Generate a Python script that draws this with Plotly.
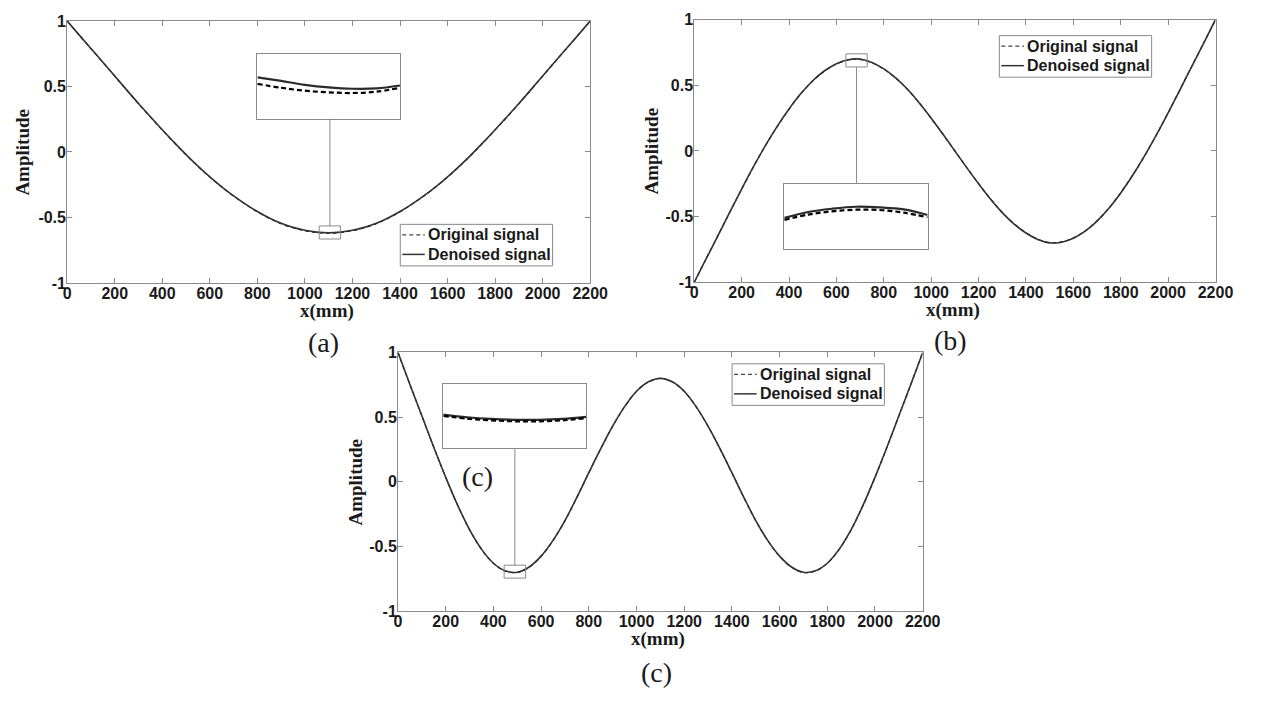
import plotly.graph_objects as go

# ---------------------------------------------------------------------------
# Mode-shape amplitudes along the beam (x in mm), original vs. denoised
# ---------------------------------------------------------------------------
x_mm = [0, 50, 100, 150, 200, 250, 300, 350, 400, 450, 500, 550, 600, 650, 700, 750,
        800, 850, 900, 950, 1000, 1050, 1100, 1150, 1200, 1250, 1300, 1350, 1400, 1450,
        1500, 1550, 1600, 1650, 1700, 1750, 1800, 1850, 1900, 1950, 2000, 2050, 2100,
        2150, 2200]

# (a) first mode
a_denoised = [1.0, 0.894, 0.79, 0.685, 0.58, 0.474, 0.37, 0.269, 0.17, 0.073, -0.02,
              -0.108, -0.19, -0.266, -0.335, -0.398, -0.455, -0.504, -0.545, -0.576,
              -0.598, -0.612, -0.617, -0.612, -0.598, -0.576, -0.545, -0.504, -0.455,
              -0.398, -0.335, -0.266, -0.19, -0.108, -0.02, 0.073, 0.17, 0.269, 0.37,
              0.474, 0.58, 0.685, 0.79, 0.894, 1.0]
a_original = [1.0, 0.893, 0.789, 0.684, 0.579, 0.473, 0.368, 0.267, 0.168, 0.071, -0.022,
              -0.110, -0.192, -0.268, -0.337, -0.400, -0.457, -0.506, -0.548, -0.579,
              -0.601, -0.615, -0.620, -0.615, -0.601, -0.579, -0.548, -0.506, -0.457,
              -0.400, -0.337, -0.268, -0.192, -0.110, -0.022, 0.071, 0.168, 0.267, 0.368,
              0.473, 0.579, 0.684, 0.789, 0.893, 1.0]

# (b) second mode
b_denoised = [-1.0, -0.822, -0.645, -0.466, -0.29, -0.12, 0.04, 0.187, 0.32, 0.437, 0.535,
              0.611, 0.665, 0.695, 0.70, 0.674, 0.625, 0.557, 0.47, 0.366, 0.25, 0.127,
              0.0, -0.127, -0.25, -0.366, -0.47, -0.557, -0.625, -0.674, -0.70, -0.695,
              -0.665, -0.611, -0.535, -0.437, -0.32, -0.187, -0.04, 0.12, 0.29, 0.466,
              0.645, 0.822, 1.0]
b_original = [-1.0, -0.822, -0.645, -0.467, -0.291, -0.121, 0.039, 0.185, 0.318, 0.435,
              0.533, 0.609, 0.663, 0.693, 0.698, 0.672, 0.623, 0.555, 0.469, 0.365, 0.249,
              0.126, 0.0, -0.126, -0.249, -0.365, -0.469, -0.555, -0.623, -0.672, -0.698,
              -0.693, -0.663, -0.609, -0.533, -0.435, -0.318, -0.185, -0.039, 0.121, 0.291,
              0.467, 0.645, 0.822, 1.0]

# (c) third mode
c_denoised = [1.0, 0.753, 0.51, 0.267, 0.035, -0.181, -0.37, -0.521, -0.63, -0.689, -0.70,
              -0.659, -0.575, -0.453, -0.30, -0.12, 0.07, 0.256, 0.43, 0.581, 0.70, 0.773,
              0.80, 0.773, 0.70, 0.581, 0.43, 0.256, 0.07, -0.12, -0.30, -0.453, -0.575,
              -0.659, -0.70, -0.689, -0.63, -0.521, -0.37, -0.181, 0.035, 0.267, 0.51,
              0.753, 1.0]
c_original = [1.0, 0.752, 0.509, 0.266, 0.034, -0.182, -0.371, -0.522, -0.631, -0.691,
              -0.702, -0.661, -0.576, -0.454, -0.301, -0.121, 0.069, 0.255, 0.429, 0.580,
              0.699, 0.772, 0.799, 0.772, 0.699, 0.580, 0.429, 0.255, 0.069, -0.121,
              -0.301, -0.454, -0.576, -0.661, -0.702, -0.691, -0.631, -0.522, -0.371,
              -0.182, 0.034, 0.266, 0.509, 0.752, 1.0]

# Close-up samples inside each zoom window
a_zoom_x = [1060, 1075, 1090, 1105, 1120, 1135, 1150]
a_zoom_original = [-0.611, -0.617, -0.6215, -0.624, -0.625, -0.623, -0.617]
a_zoom_denoised = [-0.601, -0.6065, -0.6125, -0.6165, -0.6185, -0.618, -0.6135]

b_zoom_x = [640, 655, 670, 685, 700, 715, 730]
b_zoom_original = [0.685, 0.693, 0.698, 0.7005, 0.700, 0.696, 0.689]
b_zoom_denoised = [0.688, 0.697, 0.702, 0.705, 0.704, 0.701, 0.6925]

c_zoom_x = [445, 460, 475, 490, 505, 520, 535]
c_zoom_original = [-0.695, -0.6995, -0.702, -0.7035, -0.7035, -0.702, -0.6985]
c_zoom_denoised = [-0.693, -0.6972, -0.6998, -0.7011, -0.7012, -0.6998, -0.6965]

x_ticks = [0, 200, 400, 600, 800, 1000, 1200, 1400, 1600, 1800, 2000, 2200]
y_ticks = [-1, -0.5, 0, 0.5, 1]
y_tick_text = ["-1", "-0.5", "0", "0.5", "1"]
legend_labels = ["Original signal", "Denoised signal"]
captions = ["(a)", "(b)", "(c)"]

# ---------------------------------------------------------------------------
W, H = 1262, 704
SANS = "Liberation Sans, Arial, sans-serif"
SERIF = "Liberation Serif, Times New Roman, serif"
FRAME = "#8a8a8a"
CURVE = "#333333"
INK = "#1a1a1a"


def fx(p):
    return p / W


def fy(p):
    return 1 - p / H


panels = [
    dict(orig=a_original, den=a_denoised,
         zx=a_zoom_x, zo=a_zoom_original, zd=a_zoom_denoised,
         box=(1060, 1150, -0.665, -0.565), inset=(800, 1400, 0.25, 0.75),
         frame=(64.3, 596.6, 13.3, 281.7), legend=(403.3, 221.7),
         caption=(325, 343), xtitle_y=310.5, ytitle_x=19),
    dict(orig=b_original, den=b_denoised,
         zx=b_zoom_x, zo=b_zoom_original, zd=b_zoom_denoised,
         box=(640, 730, 0.64, 0.74), inset=(380, 985, -0.75, -0.25),
         frame=(702.5, 1233.0, 12.0, 281.0), legend=(1013.0, 28.3),
         caption=(963, 341), xtitle_y=309.5, ytitle_x=659),
    dict(orig=c_original, den=c_denoised,
         zx=c_zoom_x, zo=c_zoom_original, zd=c_zoom_denoised,
         box=(445, 535, -0.745, -0.645), inset=(190, 790, 0.26, 0.76),
         frame=(401.0, 935.0, 353.0, 618.0), legend=(741.0, 364.6),
         caption=(664, 681), xtitle_y=646.5, ytitle_x=358),
]

fig = go.Figure()
shapes = []
annotations = []
layout_axes = {}

tickfont = dict(family=SANS, size=16, color=INK, weight="bold")
titlefont = dict(family=SERIF, size=19, color=INK, weight="bold")

for i, p in enumerate(panels):
    k = i + 1
    ki = i + 4
    xa, ya = ("x" if k == 1 else f"x{k}"), ("y" if k == 1 else f"y{k}")
    xi, yi = f"x{ki}", f"y{ki}"
    left, right, top, bottom = p["frame"]
    dom_x = [fx(left), fx(right)]
    dom_y = [fy(bottom), fy(top)]

    # main curves
    fig.add_trace(go.Scatter(x=x_mm, y=p["orig"], mode="lines", xaxis=xa, yaxis=ya,
                             line=dict(color="black", width=1.2, dash="4px,3px", shape="spline"),
                             showlegend=False, hoverinfo="skip"))
    fig.add_trace(go.Scatter(x=x_mm, y=p["den"], mode="lines", xaxis=xa, yaxis=ya,
                             line=dict(color=CURVE, width=1.6, shape="spline"),
                             showlegend=False, hoverinfo="skip"))

    # close-up curves
    fig.add_trace(go.Scatter(x=p["zx"], y=p["zd"], mode="lines", xaxis=xi, yaxis=yi,
                             line=dict(color="#2b2b2b", width=2.2, shape="spline"),
                             showlegend=False, hoverinfo="skip"))
    fig.add_trace(go.Scatter(x=p["zx"], y=p["zo"], mode="lines", xaxis=xi, yaxis=yi,
                             line=dict(color="black", width=2.2, dash="5px,3px", shape="spline"),
                             showlegend=False, hoverinfo="skip"))

    main_x = dict(domain=dom_x, range=[0, 2200], anchor=ya, tickvals=x_ticks,
                  ticks="inside", ticklen=5, tickcolor=FRAME, showline=True,
                  linecolor=FRAME, linewidth=1, mirror="ticks", showgrid=False,
                  zeroline=False, tickfont=tickfont, fixedrange=True,
                  ticklabelstandoff=-4)
    main_y = dict(domain=dom_y, range=[-1, 1], anchor=xa, tickvals=y_ticks,
                  ticktext=y_tick_text, ticks="inside", ticklen=5, tickcolor=FRAME,
                  showline=True, linecolor=FRAME, linewidth=1, mirror="ticks",
                  showgrid=False, zeroline=False, tickfont=tickfont, fixedrange=True,
                  ticklabelstandoff=-3)
    layout_axes["xaxis" if k == 1 else f"xaxis{k}"] = main_x
    layout_axes["yaxis" if k == 1 else f"yaxis{k}"] = main_y

    # axis titles
    annotations.append(dict(xref="paper", yref="paper", x=fx((left + right) / 2 - 2),
                            y=fy(p["xtitle_y"]), xanchor="center", yanchor="middle",
                            showarrow=False, text="x(mm)", font=titlefont))
    annotations.append(dict(xref="paper", yref="paper", x=fx(p["ytitle_x"]),
                            y=fy((top + bottom) / 2), xanchor="center", yanchor="middle",
                            showarrow=False, text="Amplitude", textangle=-90,
                            font=titlefont))

    # inset axes placed over the main panel at the given data rectangle
    ix0, ix1, iy0, iy1 = p["inset"]
    pxw = right - left
    pyh = bottom - top
    in_dx = [fx(left + ix0 / 2200 * pxw), fx(left + ix1 / 2200 * pxw)]
    in_dy = [fy(top + (1 - iy0) / 2 * pyh), fy(top + (1 - iy1) / 2 * pyh)]
    bx0, bx1, by0, by1 = p["box"]
    layout_axes[f"xaxis{ki}"] = dict(domain=in_dx, range=[bx0, bx1], anchor=yi,
                                     showticklabels=False, ticks="", showline=True,
                                     linecolor=FRAME, linewidth=1, mirror=True,
                                     showgrid=False, zeroline=False, fixedrange=True)
    layout_axes[f"yaxis{ki}"] = dict(domain=in_dy, range=[by0, by1], anchor=xi,
                                     showticklabels=False, ticks="", showline=True,
                                     linecolor=FRAME, linewidth=1, mirror=True,
                                     showgrid=False, zeroline=False, fixedrange=True)

    # zoom window and its leader line
    shapes.append(dict(type="rect", xref=xa, yref=ya, x0=bx0, x1=bx1, y0=by0, y1=by1,
                       line=dict(color=FRAME, width=1), fillcolor="rgba(0,0,0,0)"))
    cx = (bx0 + bx1) / 2
    if by1 < iy0:
        ly0, ly1 = by1, iy0
    else:
        ly0, ly1 = by0, iy1
    shapes.append(dict(type="line", xref=xa, yref=ya, x0=cx, x1=cx, y0=ly0, y1=ly1,
                       line=dict(color=FRAME, width=1)))

    # legend box
    lx, ly = p["legend"]
    lw, lh = 155, 42.6
    shapes.append(dict(type="rect", xref="paper", yref="paper",
                       x0=fx(lx), x1=fx(lx + lw), y0=fy(ly + lh), y1=fy(ly),
                       line=dict(color=FRAME, width=1), fillcolor="white"))
    rows = [(ly + 10.8, dict(color="#444444", width=1.3, dash="4px,3px")),
            (ly + 30.8, dict(color=CURVE, width=1.5))]
    for (ry, lstyle), label in zip(rows, legend_labels):
        shapes.append(dict(type="line", xref="paper", yref="paper",
                           x0=fx(lx + 2), x1=fx(lx + 25), y0=fy(ry), y1=fy(ry),
                           line=lstyle))
        annotations.append(dict(xref="paper", yref="paper", x=fx(lx + 26.5), y=fy(ry),
                                xanchor="left", yanchor="middle", showarrow=False,
                                text=label, font=dict(family=SANS, size=16,
                                                      color=INK, weight="bold")))

    # panel caption
    cxp, cyp = p["caption"]
    annotations.append(dict(xref="paper", yref="paper", x=fx(cxp), y=fy(cyp),
                            xanchor="center", yanchor="middle", showarrow=False,
                            text=captions[i],
                            font=dict(family=SERIF, size=28, color=INK)))

# extra label inside panel (c)
annotations.append(dict(xref="paper", yref="paper", x=fx(482), y=fy(480),
                        xanchor="center", yanchor="middle", showarrow=False,
                        text="(c)", font=dict(family=SERIF, size=28, color=INK)))

fig.update_layout(
    width=W, height=H,
    margin=dict(l=0, r=0, t=0, b=0),
    paper_bgcolor="white", plot_bgcolor="white",
    showlegend=False,
    shapes=shapes,
    annotations=annotations,
    **layout_axes,
)

fig.write_html("out.html", config=dict(displayModeBar=False))
